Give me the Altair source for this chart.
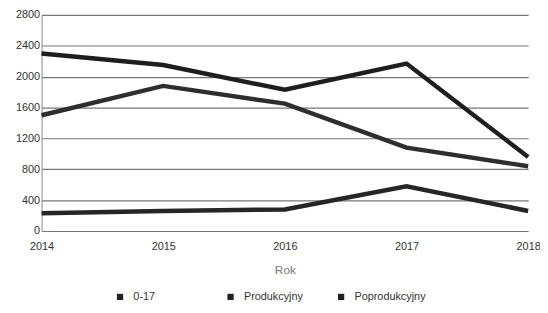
import altair as alt
import pandas as pd

years = [2014, 2015, 2016, 2017, 2018]
series_names = ["0-17", "Produkcyjny", "Poprodukcyjny"]
s_0_17 = [2300, 2150, 1830, 2170, 960]
s_prod = [1500, 1880, 1650, 1080, 840]
s_poprod = [230, 260, 280, 580, 260]
y_ticks = [0, 400, 800, 1200, 1600, 2000, 2400, 2800]
colors = ["#1e1e1e", "#2e2e2e", "#262626"]

rows = []
for name, vals in zip(series_names, [s_0_17, s_prod, s_poprod]):
    for yr, v in zip(years, vals):
        rows.append({"Rok": yr, "Wartość": v, "Grupa": name})
df = pd.DataFrame(rows)

chart = alt.Chart(df).mark_line(strokeWidth=4.5, strokeJoin="miter").encode(
    x=alt.X("Rok:Q", scale=alt.Scale(domain=[2014, 2018], nice=False, zero=False),
            axis=alt.Axis(values=years, format="d", grid=False, ticks=False, domain=False,
                          labelFlush=False, labelOverlap=False,
                          labelFont="Liberation Sans", labelFontSize=11, labelColor="#333",
                          labelPadding=10, title="Rok", titleFont="Liberation Sans",
                          titleFontSize=12, titleFontWeight="normal", titleColor="#777",
                          titlePadding=13)),
    y=alt.Y("Wartość:Q", scale=alt.Scale(domain=[0, 2800], nice=False),
            axis=alt.Axis(values=y_ticks, format="d", title=None, ticks=False, domain=True,
                          domainColor="#888", gridColor="#777", gridWidth=1.2,
                          labelFont="Liberation Sans", labelFontSize=11, labelColor="#333",
                          labelPadding=2)),
    color=alt.Color("Grupa:N", sort=series_names,
                    scale=alt.Scale(domain=series_names, range=colors),
                    legend=alt.Legend(orient="none", legendX=74, legendY=280,
                                      direction="horizontal", columns=3, gridAlign="all",
                                      title=None, symbolType="square", symbolSize=40,
                                      symbolStrokeWidth=0, columnPadding=20, symbolOffset=0,
                                      labelOffset=8,
                                      labelFont="Liberation Sans", labelFontSize=11,
                                      labelColor="#333")),
).properties(
    width=493, height=219,
    autosize=alt.AutoSizeParams(type="none"),
    padding={"left": 34, "top": 5, "right": 12, "bottom": 76},
).configure_view(stroke=None).configure_legend(symbolFillColor="#222")

chart.save("out.html", embed_options={"renderer": "svg", "actions": False})
